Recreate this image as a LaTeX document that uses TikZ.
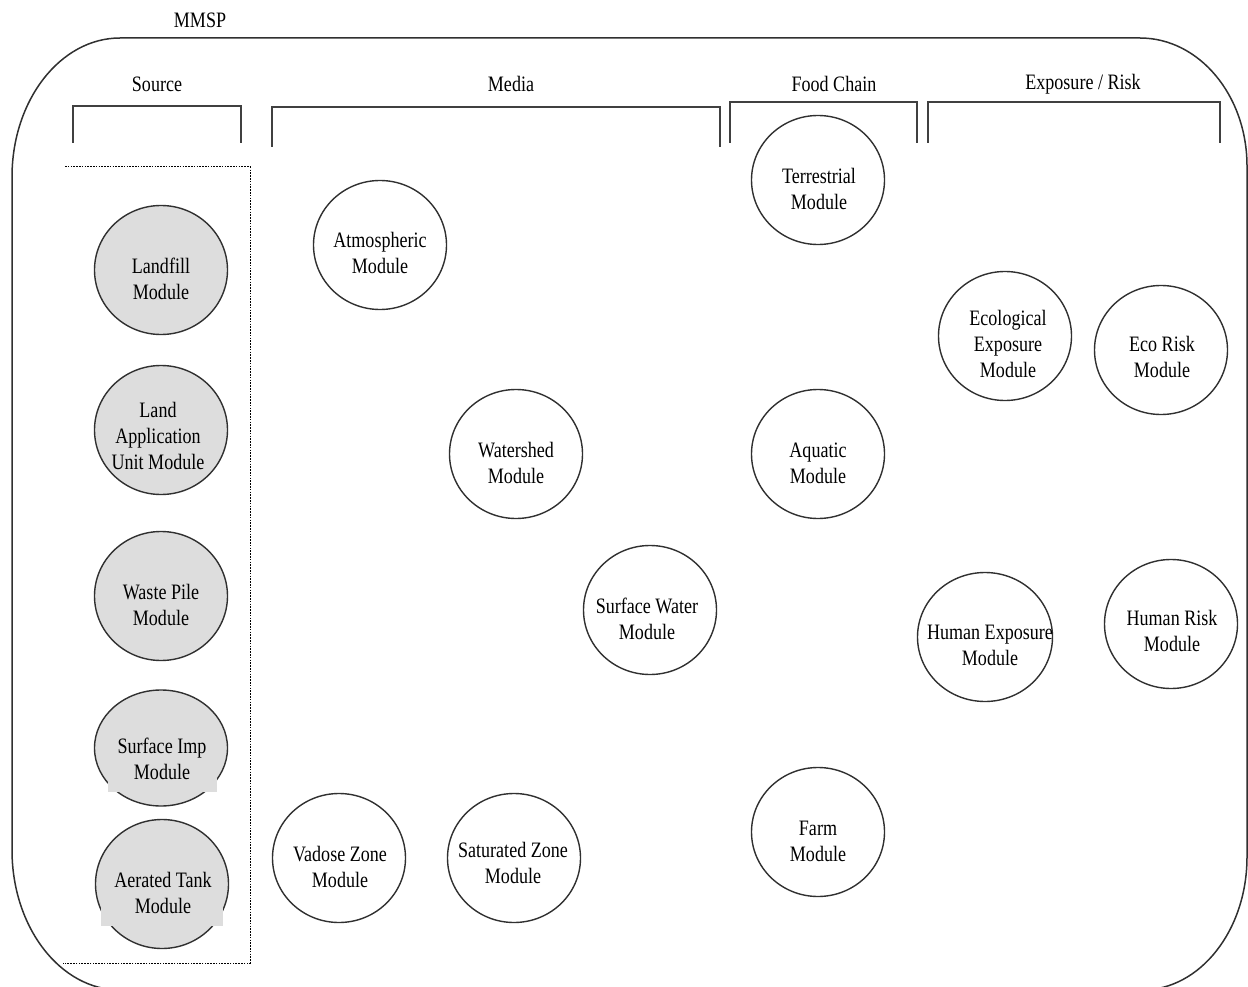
\documentclass[tikz,border=0pt]{standalone}
\usepackage{fontspec}
\setmainfont{Liberation Serif}[FakeStretch=0.82]
\usetikzlibrary{shapes.geometric}
\definecolor{linec}{HTML}{303030}
\definecolor{brk}{HTML}{404040}
\definecolor{srcfill}{HTML}{DDDDDD}
\begin{document}
\begin{tikzpicture}[x=1pt,y=-1pt,
  modc/.style={draw=linec, line width=1.4pt, ellipse, minimum width=133pt, minimum height=129pt, inner sep=0pt},
  srcc/.style={modc, fill=srcfill},
  modt/.style={align=center, inner sep=0pt, font=\fontsize{22}{26}\selectfont},
  hdr/.style={inner sep=0pt, font=\fontsize{22}{26}\selectfont},
  brack/.style={draw=brk, line width=2.4pt},
  frame/.style={draw=linec, line width=1.5pt},
  srcbox/.style={draw=black, line width=1pt, dash pattern=on 1.6pt off 1.2pt}]
\useasboundingbox (0,0) rectangle (1248,987);
\clip (0,0) rectangle (1248,987);

% outer frame
\draw[frame] (120,38) -- (1140,38)
  arc[start angle=-90, end angle=0, x radius=107, y radius=128] -- (1247,857)
  arc[start angle=0, end angle=90, x radius=105, y radius=133] -- (120,990)
  arc[start angle=90, end angle=180, x radius=108, y radius=140] -- (12,177)
  arc[start angle=180, end angle=270, x radius=108, y radius=139] -- cycle;

% headers
\node[hdr] (mmsp) at (200,20) {MMSP};
\node[hdr] (hsrc) at (157,84) {Source};
\node[hdr] (hmed) at (511,84) {Media};
\node[hdr] (hfood) at (834,84) {Food Chain};
\node[hdr] (hexp) at (1083,84) {Exposure / Risk};

% brackets
\draw[brack] (73,143) -- (73,106) -- (241,106) -- (241,143);
\draw[brack] (272,147) -- (272,107) -- (720,107) -- (720,147);
\draw[brack] (730,143) -- (730,102) -- (917,102) -- (917,143);
\draw[brack] (928,143) -- (928,102) -- (1220,102) -- (1220,143);

% source box
\draw[srcbox] (65,167) -- (250,167) -- (250,963) -- (63,963);

% source modules
\node[srcc] (landfill) at (161,270) {};
\node[srcc] (lau) at (161,430) {};
\node[srcc] (wpile) at (161,596) {};
\node[srcc, minimum height=116pt] (simp) at (161,748) {};
\node[srcc] (atank) at (162,884) {};
\fill[srcfill] (108,778) rectangle (217,792);
\fill[srcfill] (101,906) rectangle (223,926);

\node[modt] (landfillT) at (161,279) {Landfill\\Module};
\node[modt] (lauT) at (158,436) {Land\\Application\\Unit Module};
\node[modt] (wpileT) at (161,605) {Waste Pile\\Module};
\node[modt] (simpT) at (162,759) {Surface Imp\\Module};
\node[modt] (atankT) at (163,893) {Aerated Tank\\Module};

% media modules
\node[modc] (atm) at (380,245) {};
\node[modc] (wshed) at (516,454) {};
\node[modc] (swater) at (650,610) {};
\node[modc] (vadose) at (339,858) {};
\node[modc] (sat) at (514,858) {};
\node[modt] (atmT) at (380,253) {Atmospheric\\Module};
\node[modt] (wshedT) at (516,463) {Watershed\\Module};
\node[modt] (swaterT) at (647,619) {Surface Water\\Module};
\node[modt] (vadoseT) at (340,867) {Vadose Zone\\Module};
\node[modt] (satT) at (513,863) {Saturated Zone\\Module};

% food chain modules
\node[modc] (terr) at (818,180) {};
\node[modc] (aqua) at (818,454) {};
\node[modc] (farm) at (818,832) {};
\node[modt] (terrT) at (819,189) {Terrestrial\\Module};
\node[modt] (aquaT) at (818,463) {Aquatic\\Module};
\node[modt] (farmT) at (818,841) {Farm\\Module};

% exposure / risk modules
\node[modc] (ecoexp) at (1005,336) {};
\node[modc] (ecorisk) at (1161,350) {};
\node[modc, minimum width=135pt] (humexp) at (985,637) {};
\node[modc] (humrisk) at (1171,624) {};
\node[modt] (ecoexpT) at (1008,344) {Ecological\\Exposure\\Module};
\node[modt] (ecoriskT) at (1162,357) {Eco Risk\\Module};
\node[modt] (humexpT) at (990,645) {Human Exposure\\Module};
\node[modt] (humriskT) at (1172,631) {Human Risk\\Module};
\end{tikzpicture}
\end{document}
